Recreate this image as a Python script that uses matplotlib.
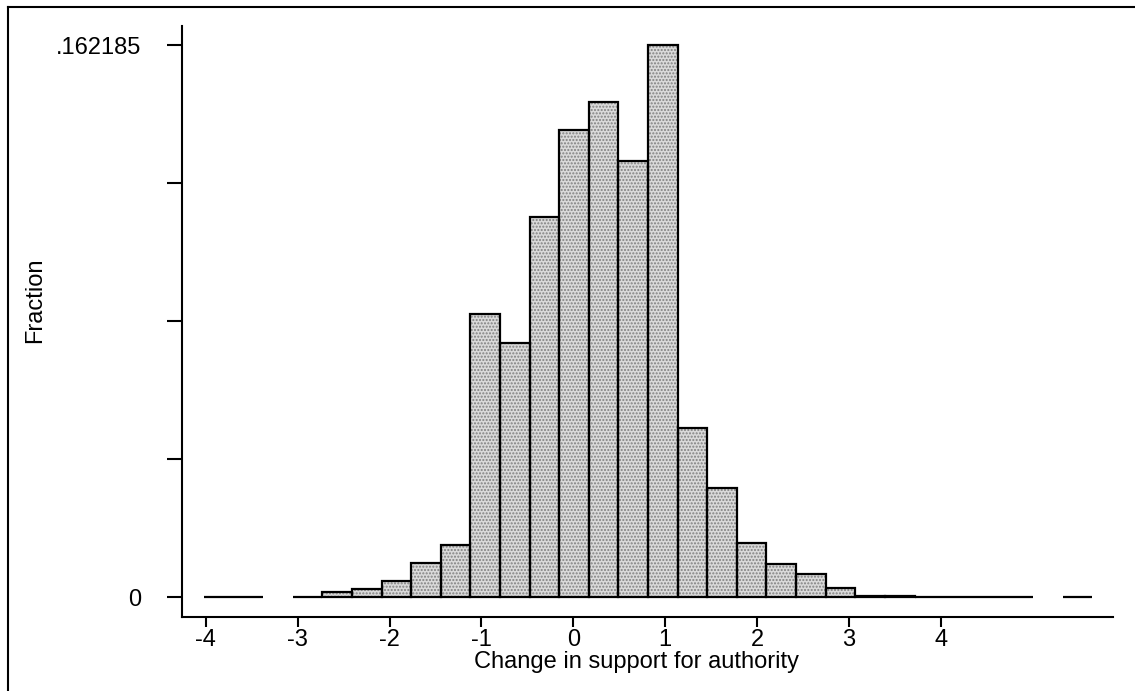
import numpy as np
import matplotlib.pyplot as plt
from matplotlib.lines import Line2D

plt.rcParams['font.family'] = ['Liberation Sans', 'DejaVu Sans']

# histogram: 30 bins
bin_start = -4.02
bin_width = 0.3222
fractions = [0.0001, 0.0001, 0.0, 0.0001, 0.0014, 0.0023, 0.0049, 0.0100,
             0.0153, 0.0832, 0.0748, 0.1117, 0.1373, 0.1455, 0.1282, 0.162185,
             0.0498, 0.0320, 0.0158, 0.0097, 0.0067, 0.0026, 0.0003, 0.0003,
             0.0001, 0.0001, 0.0001, 0.0001, 0.0, 0.0001]
ymax = 0.162185
xticks = [-4, -3, -2, -1, 0, 1, 2, 3, 4]

fractions = np.array(fractions)
lefts = bin_start + bin_width * np.arange(len(fractions))
keep = fractions > 0

fig = plt.figure(figsize=(11.35, 6.91), dpi=100)
ax = fig.add_axes([0.16035, 0.10709, 0.8203, 0.8553])

# stipple-ish fill, then outline
ax.bar(lefts[keep], fractions[keep], width=bin_width, align='edge',
       facecolor='#dadada', edgecolor='#808080', hatch='.....', linewidth=0)
ax.bar(lefts[keep], fractions[keep], width=bin_width, align='edge',
       facecolor='none', edgecolor='black', linewidth=1.6)

ax.set_xlim(-4.258, 5.873)
ax.set_ylim(-0.00582, 0.1679)

ax.spines['top'].set_visible(False)
ax.spines['right'].set_visible(False)
ax.spines['left'].set_linewidth(1.5)
ax.spines['bottom'].set_linewidth(1.5)

ax.set_xticks(xticks)
ax.set_xticklabels([str(t) for t in xticks])
ax.set_yticks([0, ymax / 4, ymax / 2, 3 * ymax / 4, ymax])
ax.set_yticklabels(['0', '', '', '', '.162185'])
ax.tick_params(axis='x', direction='out', length=7.5, width=1.5, pad=1, labelsize=17)
ax.tick_params(axis='y', direction='out', length=11, width=1.5, pad=18, labelsize=17)

ax.set_xlabel('Change in support for authority', fontsize=17, va='center')
ax.xaxis.set_label_coords(0.488, -0.076)
ax.set_ylabel('Fraction', fontsize=17)
ax.yaxis.set_label_coords(-0.146, 0.536)

# outer frame (top and left visible)
fig.add_artist(Line2D([8 / 1135, 1.0], [1 - 7 / 691, 1 - 7 / 691],
                      transform=fig.transFigure, color='black', lw=1.5))
fig.add_artist(Line2D([8 / 1135, 8 / 1135], [0.0, 1 - 7 / 691],
                      transform=fig.transFigure, color='black', lw=1.5))

fig.savefig('out.png', dpi=100)
